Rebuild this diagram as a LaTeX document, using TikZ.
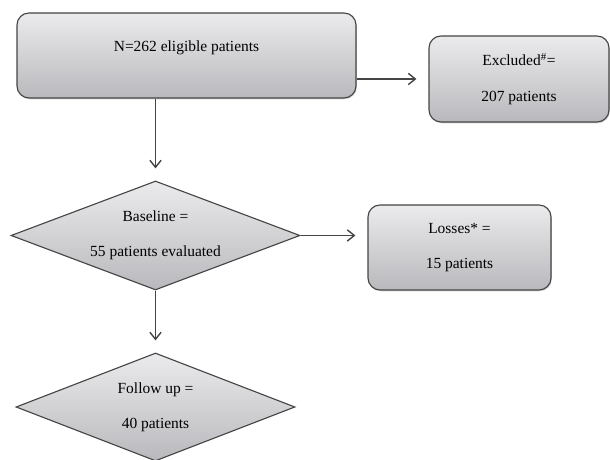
\documentclass[tikz,border=0pt]{standalone}
\usepackage{fontspec}
\setmainfont{Liberation Serif}
\usetikzlibrary{shapes.geometric,arrows.meta,shadows}
\definecolor{edgegray}{HTML}{454545}
\definecolor{filltop}{HTML}{EBEBED}
\definecolor{fillbot}{HTML}{B9B9BD}
\tikzset{
	box/.style={draw=edgegray, line width=0.8pt, rounded corners=0.3cm, top color=filltop, bottom color=fillbot, align=center, font=\fontsize{11}{13.2}\selectfont, drop shadow={shadow xshift=0.6pt, shadow yshift=-0.9pt, opacity=0.35}},
	dia/.style={draw=edgegray, line width=0.8pt, shape=diamond, inner sep=0pt, top color=filltop, bottom color=fillbot, align=center, font=\fontsize{11}{13.2}\selectfont},
	arr/.style={draw=edgegray, line width=1pt, -{Straight Barb[length=5pt,width=8pt]}, shorten >=0.3cm}
}
\begin{document}
\begin{tikzpicture}
	\useasboundingbox (0,0) rectangle (15.25,11.5);
	\node[box, minimum width=8.475cm, minimum height=2.125cm, text depth=0.45cm] (elig) at (4.6625,10.1125) {N=262 eligible patients};
	\node[box, minimum width=4.5cm, minimum height=2.15cm] (excl) at (12.975,9.525) {Excluded\textsuperscript{\#}=\\[12pt]207 patients};
	\node[dia, aspect=2.65, minimum width=7.225cm, minimum height=2.725cm] (base) at (3.8875,5.6125) {Baseline =\\[12pt]55 patients evaluated};
	\node[box, minimum width=4.575cm, minimum height=2.125cm] (loss) at (11.4875,5.3125) {Losses* =\\[12pt]15 patients};
	\node[dia, aspect=2.58, minimum width=6.975cm, minimum height=2.7cm] (follow) at (3.8875,1.325) {Follow up =\\[12pt]40 patients};
	\draw[arr] (elig.east |- excl.west) -- (excl.west);
	\draw[arr] (base.north |- elig.south) -- (base.north);
	\draw[arr] (base.east) -- (base.east -| loss.west);
	\draw[arr] (base.south) -- (follow.north);
	\end{tikzpicture}
\end{document}
